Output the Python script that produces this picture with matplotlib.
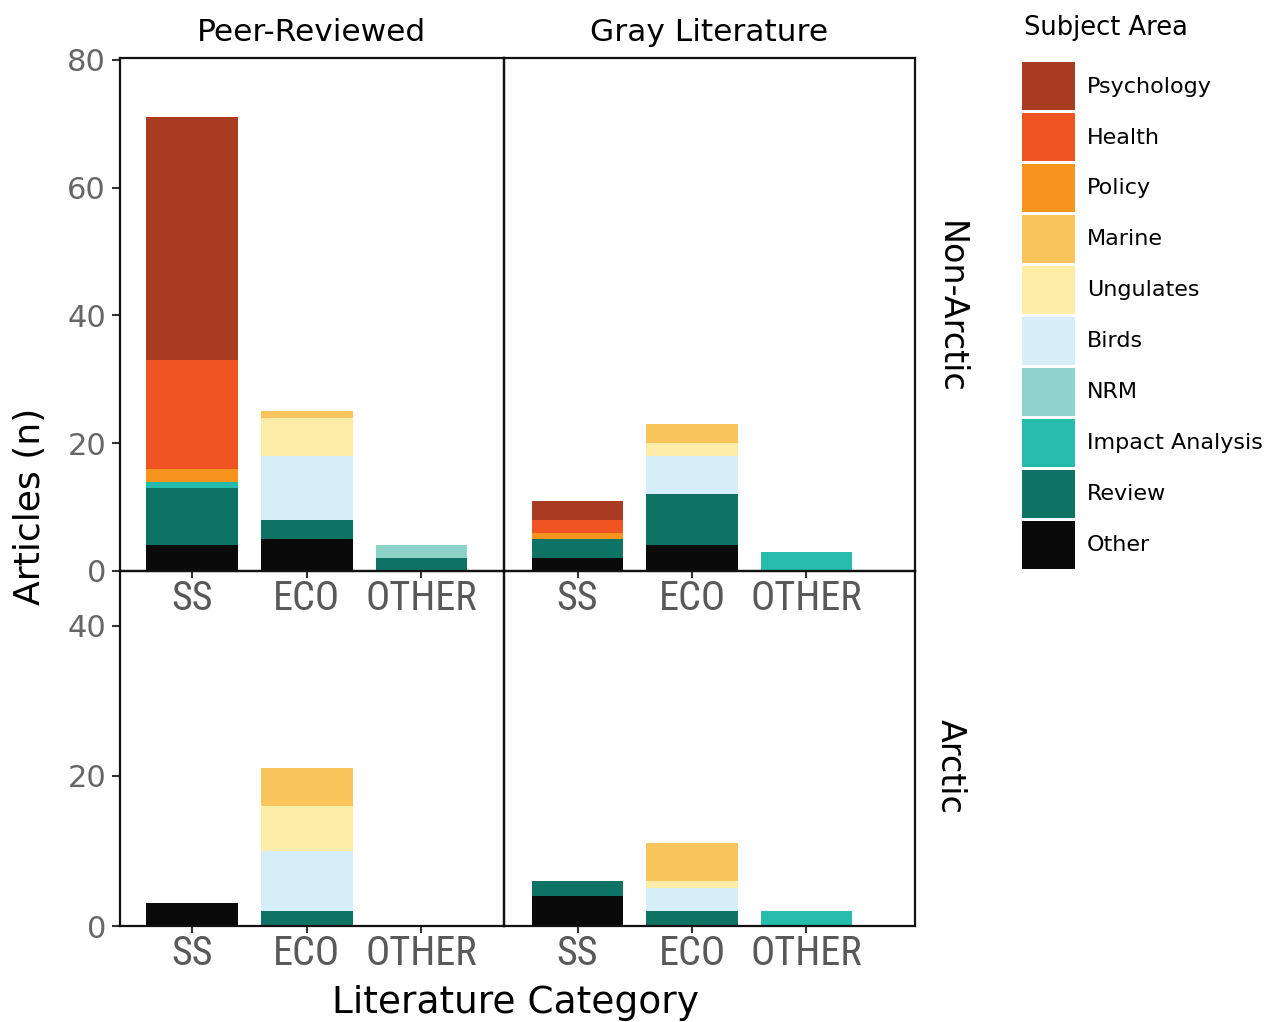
import matplotlib
matplotlib.use("Agg")
import matplotlib.pyplot as plt
from matplotlib.patches import Patch
from matplotlib import font_manager
import numpy as np

# categories on the x axis
categories = ['SS', 'ECO', 'OTHER']

# subject areas, legend order (top to bottom)
subjects = ['Psychology', 'Health', 'Policy', 'Marine', 'Ungulates',
            'Birds', 'NRM', 'Impact Analysis', 'Review', 'Other']
colors = ['#a83b22', '#f05423', '#f7941d', '#f9c55a', '#fdeda8',
          '#d6eef8', '#8ed3c9', '#25bbad', '#0e7265', '#0a0a0a']

# counts per subject, each row = [SS, ECO, OTHER], same order as subjects
peer_nonarctic = [
    [38, 0, 0],
    [17, 0, 0],
    [2, 0, 0],
    [0, 1, 0],
    [0, 6, 0],
    [0, 10, 0],
    [0, 0, 2],
    [1, 0, 0],
    [9, 3, 2],
    [4, 5, 0],
]
gray_nonarctic = [
    [3, 0, 0],
    [2, 0, 0],
    [1, 0, 0],
    [0, 3, 0],
    [0, 2, 0],
    [0, 6, 0],
    [0, 0, 0],
    [0, 0, 3],
    [3, 8, 0],
    [2, 4, 0],
]
peer_arctic = [
    [0, 0, 0],
    [0, 0, 0],
    [0, 0, 0],
    [0, 5, 0],
    [0, 6, 0],
    [0, 8, 0],
    [0, 0, 0],
    [0, 0, 0],
    [0, 2, 0],
    [3, 0, 0],
]
gray_arctic = [
    [0, 0, 0],
    [0, 0, 0],
    [0, 0, 0],
    [0, 5, 0],
    [0, 1, 0],
    [0, 3, 0],
    [0, 0, 0],
    [0, 0, 2],
    [2, 2, 0],
    [4, 0, 0],
]

col_titles = ['Peer-Reviewed', 'Gray Literature']
row_titles = ['Non-Arctic', 'Arctic']
panels = [[peer_nonarctic, gray_nonarctic], [peer_arctic, gray_arctic]]

W, H = 1271, 1022
fig = plt.figure(figsize=(W / 100, H / 100), dpi=100)

# panel geometry in pixels
col_edges = [(120, 504), (504, 915)]
row_edges = [(58, 571), (571, 926)]
xlims = [(-0.63, 2.72), (-0.643, 2.95)]
ylims = [(0, 80.3), (0, 47.3)]
yticks = [[0, 20, 40, 60, 80], [0, 20, 40]]
row_label_y = [0.513, 0.45]

# narrow font for the category labels, if one is around
names = {f.name for f in font_manager.fontManager.ttflist}
narrow = [n for n in ['Liberation Sans Narrow', 'Roboto Condensed',
                      'Open Sans Condensed', 'DejaVu Sans'] if n in names]
tick_kw = dict(fontsize=29, color='#595959', family=narrow[0],
               fontstretch='condensed')

x = np.arange(len(categories))

for r in range(2):
    for c in range(2):
        x0, x1 = col_edges[c]
        y0, y1 = row_edges[r]
        ax = fig.add_axes([x0 / W, 1 - y1 / H, (x1 - x0) / W, (y1 - y0) / H])
        ax.set_zorder(2 - r)
        ax.patch.set_alpha(0)
        data = np.array(panels[r][c])
        bottom = np.zeros(len(categories))
        for i in range(len(subjects) - 1, -1, -1):
            ax.bar(x, data[i], 0.8, bottom=bottom, color=colors[i], linewidth=0)
            bottom += data[i]
        ax.set_xlim(*xlims[c])
        ax.set_ylim(*ylims[r])
        ax.set_xticks(x)
        ax.set_xticklabels(categories, **tick_kw)
        ax.tick_params(axis='x', length=5, width=1.5, color='#333333', pad=1)
        ax.set_yticks(yticks[r])
        if c == 0:
            ax.tick_params(axis='y', length=6, width=1.5, color='#333333',
                           labelsize=22, labelcolor='#666666', pad=4)
        else:
            ax.tick_params(axis='y', length=0, labelleft=False)
        for s in ax.spines.values():
            s.set_linewidth(1.6)
            s.set_color('#111111')
        if r == 0:
            ax.set_title(col_titles[c], fontsize=22.5, pad=12)
        if c == 1:
            ax.text(1 + 35 / (x1 - x0), row_label_y[r], row_titles[r],
                    transform=ax.transAxes, rotation=-90, fontsize=24,
                    ha='center', va='center')

fig.text(30 / W, 1 - 506 / H, 'Articles (n)', rotation=90, fontsize=26,
         ha='center', va='center')
fig.text(516 / W, 1 - 1003 / H, 'Literature Category', fontsize=27,
         ha='center', va='center')

fig.text(1024 / W, 1 - 28 / H, 'Subject Area', fontsize=18.5,
         ha='left', va='center')
handles = [Patch(facecolor=col, edgecolor='none') for col in colors]
leg = fig.legend(handles, subjects, loc='upper left',
                 bbox_to_anchor=(1022 / W, 1 - 62 / H), frameon=False,
                 fontsize=16, handlelength=2.39, handleheight=2.95,
                 labelspacing=0.13, handletextpad=0.54, borderpad=0,
                 borderaxespad=0)

fig.savefig('out.png', dpi=100)
